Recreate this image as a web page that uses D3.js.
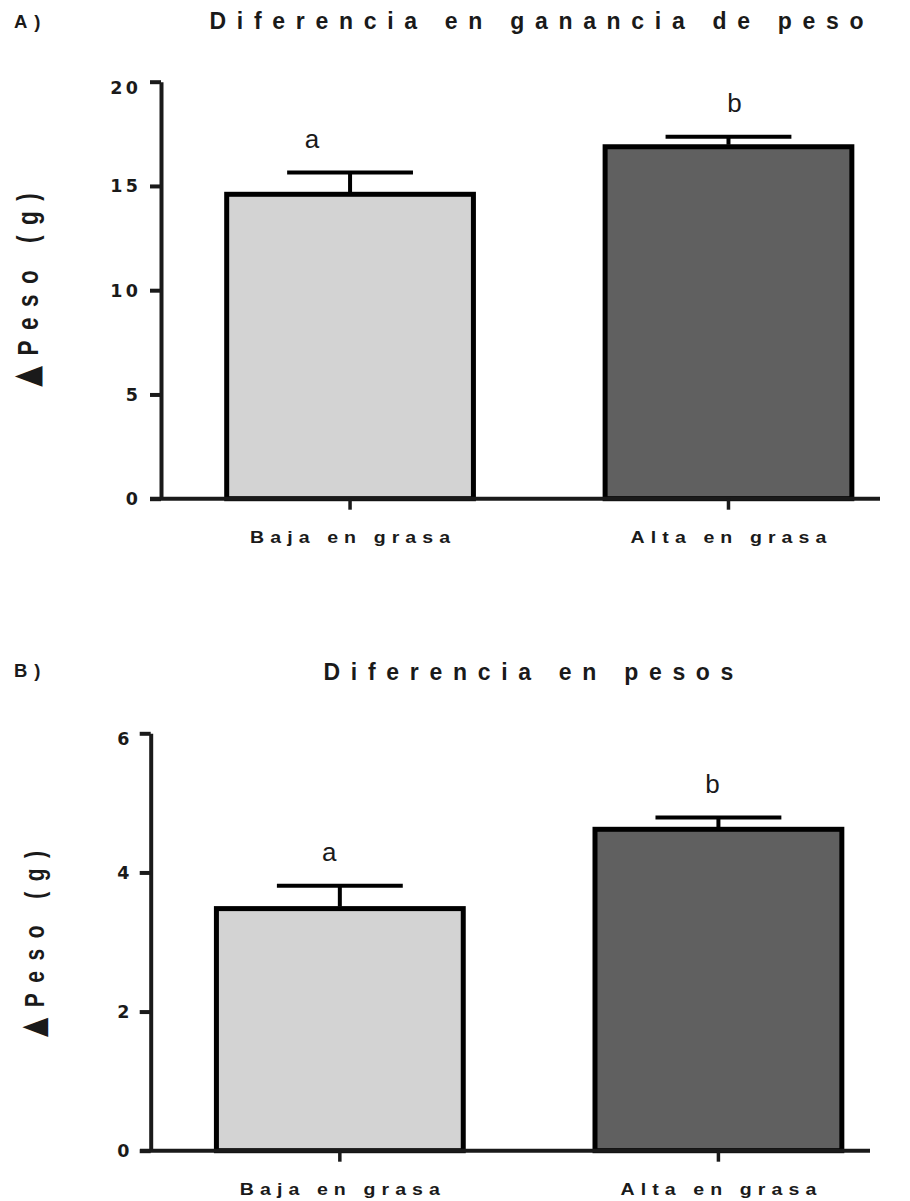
<!DOCTYPE html>
<html>
<head>
<meta charset="utf-8">
<script src="https://cdn.jsdelivr.net/npm/d3@7"></script>
<style>
  html, body { margin: 0; padding: 0; background: #fff; }
  svg { display: block; }
</style>
</head>
<body>
<div id="chart"></div>
<script>
// ---------------- DATA ----------------
const categories = ["Baja en grasa", "Alta en grasa"];
const sigLetters = ["a", "b"];

// Panel A: Diferencia en ganancia de peso
const gananciaMeans = [14.6, 16.88];
const gananciaErrors = [1.05, 0.48];
const ticksA = [0, 5, 10, 15, 20];

// Panel B: Diferencia en pesos
const pesosMeans = [3.48, 4.62];
const pesosErrors = [0.33, 0.17];
const ticksB = [0, 2, 4, 6];

const barColors = ["#d3d3d3", "#606060"];
const textColor = "#1a1a1a";

// ---------------- LAYOUT ----------------
const W = 910, H = 1201;
const panels = [
  {
    tag: "A)", title: "Diferencia en ganancia de peso",
    means: gananciaMeans, errors: gananciaErrors, ticks: ticksA,
    lay: { axisX: 161, xStart: 150, xEnd: 880, y0: 498.7, yTop: 81.7,
           titleX: 209.5, titleY: 28.5, tagY: 28.3,
           ylabX: 37.7, ylabMid: 290, ylabSize: 30,
           catY: 542.5, letterDx: [-38, 6], tickRight: 137 }
  },
  {
    tag: "B)", title: "Diferencia en pesos",
    means: pesosMeans, errors: pesosErrors, ticks: ticksB,
    lay: { axisX: 150.7, xStart: 140, xEnd: 870, y0: 1150.7, yTop: 733.3,
           titleX: 323.5, titleY: 679.5, tagY: 677,
           ylabX: 44.3, ylabMid: 944, ylabSize: 28,
           catY: 1195, letterDx: [-10.6, -6], tickRight: 128.5 }
  }
];

const svg = d3.select("#chart").append("svg")
  .attr("width", W).attr("height", H)
  .attr("font-family", "'Liberation Sans', Arial, Helvetica, sans-serif");

panels.forEach(p => {
  const L = p.lay;
  const g = svg.append("g");
  const yMax = p.ticks[p.ticks.length - 1];

  const y = d3.scaleLinear().domain([0, yMax]).range([L.y0, L.yTop]);
  const x = d3.scaleBand().domain(categories)
    .range([L.axisX, L.xEnd]).paddingInner(0.348).paddingOuter(0.124).align(0.7);

  // Panel tag
  g.append("text").attr("x", 14).attr("y", L.tagY)
    .attr("font-size", 18.5).attr("font-weight", "bold").attr("letter-spacing", 7)
    .attr("fill", textColor).text(p.tag);

  // Title
  g.append("text").attr("x", L.titleX).attr("y", L.titleY)
    .attr("font-size", 23).attr("font-weight", "bold").attr("letter-spacing", 10.7)
    .attr("fill", textColor).text(p.title);

  // Bars
  g.selectAll("rect.bar").data(p.means).join("rect")
    .attr("class", "bar")
    .attr("x", (d, i) => x(categories[i]))
    .attr("width", x.bandwidth())
    .attr("y", d => y(d))
    .attr("height", d => y(0) - y(d))
    .attr("fill", (d, i) => barColors[i])
    .attr("stroke", "#000").attr("stroke-width", 5);

  // Error bars (upper only)
  const capHalf = x.bandwidth() * 0.255;
  p.means.forEach((m, i) => {
    const cx = x(categories[i]) + x.bandwidth() / 2;
    const top = y(m + p.errors[i]);
    g.append("line").attr("x1", cx).attr("x2", cx)
      .attr("y1", y(m) - 2).attr("y2", top)
      .attr("stroke", "#000").attr("stroke-width", 4);
    g.append("line").attr("x1", cx - capHalf).attr("x2", cx + capHalf)
      .attr("y1", top).attr("y2", top)
      .attr("stroke", "#000").attr("stroke-width", 4);
    g.append("text").attr("x", cx + L.letterDx[i]).attr("y", top - 24.5)
      .attr("text-anchor", "middle").attr("font-size", 26)
      .attr("fill", textColor).text(sigLetters[i]);
  });

  // Y axis
  const yAxis = g.append("g").attr("transform", `translate(${L.axisX},0)`)
    .call(d3.axisLeft(y).tickValues(p.ticks).tickSize(11).tickSizeOuter(0).tickFormat(""));
  yAxis.select(".domain").attr("stroke", "#1a1a1a").attr("stroke-width", 4);
  yAxis.selectAll(".tick line").attr("stroke", "#1a1a1a").attr("stroke-width", 4);

  // Y tick labels
  p.ticks.forEach(t => {
    const ty = y(t);
    const isTop = t === yMax;
    g.append("text")
      .attr("x", L.tickRight + 4.5).attr("y", isTop ? ty + 12 : ty + 6.4)
      .attr("text-anchor", "end")
      .attr("font-family", "'DejaVu Sans', sans-serif")
      .attr("font-size", 17.5).attr("font-weight", "bold").attr("letter-spacing", 3.5)
      .attr("fill", textColor).text(t);
  });

  // X axis
  g.append("line").attr("x1", L.xStart).attr("x2", L.xEnd)
    .attr("y1", L.y0).attr("y2", L.y0)
    .attr("stroke", "#1a1a1a").attr("stroke-width", 4);
  const xAxis = g.append("g").attr("transform", `translate(0,${L.y0})`)
    .call(d3.axisBottom(x).tickSize(11).tickSizeOuter(0).tickFormat(""));
  xAxis.select(".domain").remove();
  xAxis.selectAll(".tick line").attr("stroke", "#1a1a1a").attr("stroke-width", 3.5);

  // Category labels (spaced, slightly widened)
  categories.forEach((c, i) => {
    const cx = x(c) + x.bandwidth() / 2;
    const gg = g.append("g").attr("transform", `translate(${cx},${L.catY}) scale(1.15,1)`);
    const t = gg.append("text").attr("font-size", 17).attr("font-weight", "bold")
      .attr("letter-spacing", 5.3).attr("fill", textColor).text(c);
    const len = t.node().getComputedTextLength();
    t.attr("x", -(len - 5.3) / 2);
  });

  // Y axis label (rotated)
  const lg = g.append("g")
    .attr("transform", `translate(${L.ylabX},${L.ylabMid}) rotate(-90) scale(0.75,1)`);
  const lt = lg.append("text").attr("font-size", L.ylabSize).attr("font-weight", "bold")
    .attr("letter-spacing", 14).attr("fill", textColor);
  lt.append("tspan").attr("font-family", "'DejaVu Sans', sans-serif")
    .attr("font-size", L.ylabSize * 1.2).text("\u25B2");
  lt.append("tspan").text("Peso (g)");
  const llen = lt.node().getComputedTextLength();
  lt.attr("x", -(llen - 14) / 2);
});
</script>
</body>
</html>
